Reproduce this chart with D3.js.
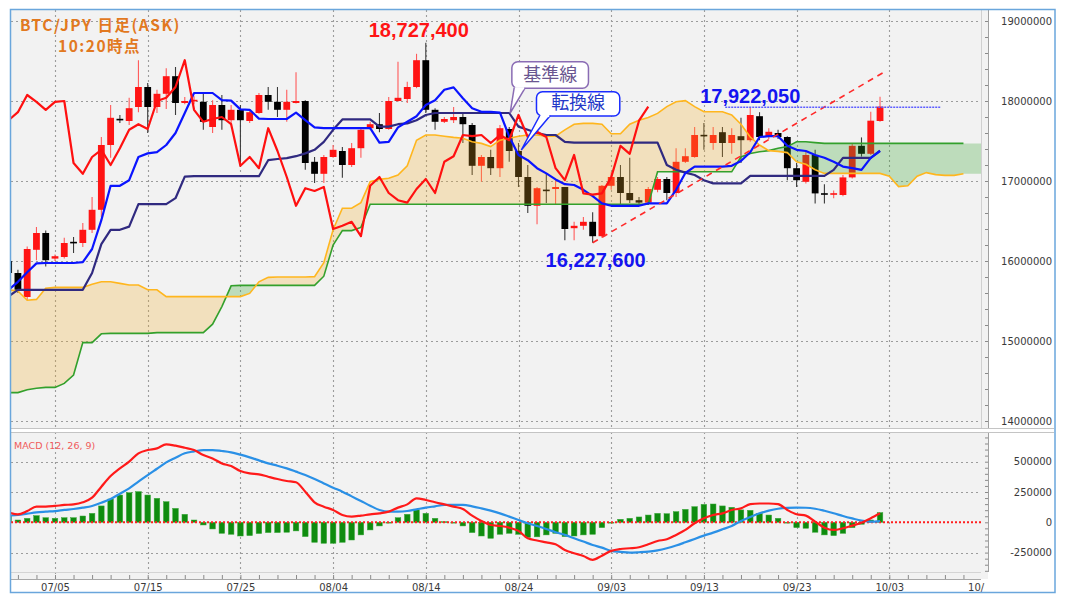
<!DOCTYPE html>
<html><head><meta charset="utf-8">
<script src="https://cdn.jsdelivr.net/npm/d3@7"></script>
<style>
html,body{margin:0;padding:0;background:#fff;}
svg{display:block;}
</style></head>
<body>
<svg id="chart" width="1066" height="599"></svg>
<script>
// ================= DATA =================
const firstBar = "2025-06-30";           // date of first (partly visible) daily bar
const openP = [
16000000,15850000,15550000,16140000,16350000,
16030000,16050000,16240000,16225000,16390000,
16640000,17450000,17775000,17750000,17925000,
18175000,17925000,18090000,18310000,17975000,
18000000,17990000,17675000,17950000,17760000,
17890000,17750000,17850000,18075000,17990000,
17890000,17975000,18000000,17240000,17090000,
17300000,17375000,17200000,17410000,17660000,
17710000,17650000,18000000,18025000,18175000,
18510000,17890000,17740000,17760000,17800000,
17700000,17190000,17300000,17160000,17650000,
17375000,17050000,16690000,16890000,16900000,
16925000,16410000,16440000,16490000,16310000,
16940000,17050000,16850000,16760000,16730000,
16890000,17025000,16850000,17240000,17300000,
17575000,17475000,17610000,17475000,17560000,
17510000,17810000,17550000,17600000,17550000,
17160000,16990000,17325000,16845000,16830000,
16825000,17045000,17440000,17340000,17750000];
const highP = [
16040000,15890000,16180000,16425000,16380000,
16080000,16290000,16300000,16475000,16800000,
17550000,17950000,17825000,18040000,18510000,
18225000,18140000,18410000,18425000,18050000,
18060000,18090000,18010000,18075000,17950000,
17950000,17890000,18100000,18175000,18175000,
18140000,18360000,18010000,17300000,17325000,
17450000,17425000,17475000,17675000,17740000,
17850000,18050000,18490000,18240000,18590000,
18727400,17910000,17800000,17925000,17850000,
17725000,17325000,17390000,17700000,17675000,
17475000,17200000,16925000,17100000,17010000,
16925000,16490000,16550000,16610000,16950000,
17110000,17200000,17290000,16800000,16925000,
17050000,17050000,17410000,17410000,17675000,
17725000,17675000,17675000,17660000,17790000,
17922050,17860000,17660000,17640000,17560000,
17225000,17365000,17390000,16960000,16880000,
17075000,17470000,17545000,17866000,18054000];
const lowP = [
15830000,15600000,15510000,16010000,15930000,
16000000,16030000,16100000,16175000,16350000,
16550000,17290000,17725000,17700000,17860000,
17600000,17850000,17900000,17825000,17960000,
17960000,17640000,17600000,17640000,17700000,
17175000,17725000,17840000,17890000,17800000,
17740000,17970000,17140000,16975000,16975000,
17290000,17040000,17175000,17290000,17640000,
17610000,17640000,17990000,17975000,18160000,
17850000,17640000,17725000,17725000,17475000,
17075000,16990000,17075000,17050000,17240000,
16925000,16600000,16460000,16725000,16700000,
16260000,16260000,16390000,16227600,16290000,
16890000,16700000,16725000,16700000,16725000,
16860000,16760000,16800000,17225000,17290000,
17390000,17390000,17300000,17340000,17225000,
17490000,17510000,17525000,17525000,17010000,
16925000,16970000,16720000,16720000,16785000,
16810000,17030000,17305000,17325000,17740000];
const closeP = [
15850000,15640000,16150000,16350000,16010000,
16060000,16225000,16220000,16390000,16640000,
17450000,17790000,17760000,17910000,18175000,
17925000,18090000,18310000,17975000,18000000,
18010000,17740000,17950000,17760000,17890000,
17760000,17860000,18075000,17990000,17890000,
17990000,18000000,17225000,17090000,17300000,
17390000,17200000,17410000,17640000,17710000,
17650000,18000000,18040000,18175000,18510000,
17890000,17740000,17775000,17800000,17710000,
17190000,17300000,17160000,17660000,17375000,
17050000,16690000,16910000,16875000,16925000,
16400000,16440000,16490000,16310000,16940000,
17050000,16850000,16760000,16730000,16900000,
17025000,16850000,17240000,17310000,17575000,
17560000,17575000,17475000,17575000,17510000,
17825000,17550000,17615000,17550000,17160000,
17010000,17325000,16845000,16830000,16845000,
17045000,17440000,17340000,17754000,17930000];
// 転換線 (Tenkan-sen)
const tenkan = [
15640000,15740000,15860000,15970000,15975000,
15975000,15975000,15975000,15985000,16150000,
16510000,16940000,16940000,17010000,17300000,
17345000,17360000,17450000,17600000,17850000,
18100000,18100000,18100000,18010000,18005000,
17895000,17890000,17780000,17775000,17775000,
17775000,17855000,17760000,17670000,17660000,
17660000,17660000,17660000,17660000,17660000,
17480000,17490000,17670000,17740000,17810000,
17950000,18010000,18140000,18170000,18035000,
17910000,17865000,17865000,17855000,17555000,
17325000,17260000,17160000,17095000,17020000,
16960000,16950000,16890000,16810000,16720000,
16690000,16690000,16690000,16690000,16720000,
16720000,16720000,16890000,17100000,17180000,
17180000,17180000,17180000,17190000,17250000,
17360000,17550000,17560000,17560000,17440000,
17390000,17375000,17325000,17290000,17240000,
17180000,17160000,17140000,17290000,17375000];
// 基準線 (Kijun-sen)
const kijun = [
15560000,15640000,15640000,15640000,15640000,
15640000,15640000,15640000,15640000,15850000,
16210000,16390000,16390000,16430000,16710000,
16710000,16710000,16710000,16785000,17055000,
17060000,17060000,17060000,17060000,17060000,
17060000,17060000,17060000,17260000,17275000,
17285000,17310000,17345000,17390000,17490000,
17640000,17770000,17770000,17770000,17770000,
17680000,17680000,17710000,17720000,17760000,
17825000,17850000,17850000,17850000,17850000,
17850000,17850000,17850000,17850000,17850000,
17680000,17640000,17600000,17575000,17575000,
17490000,17480000,17480000,17480000,17480000,
17480000,17480000,17480000,17480000,17480000,
17480000,17200000,17140000,17105000,17075000,
17010000,16970000,16970000,16970000,16970000,
17065000,17065000,17065000,17065000,17065000,
17065000,17065000,17065000,17065000,17140000,
17290000,17290000,17290000,17290000,17380000];
// 先行スパン1 / 先行スパン2 (already shifted forward, from firstBar to 2025-10-13)
const senkouA = [
15640000,15625000,15510000,15520000,15660000,
15670000,15670000,15670000,15670000,15710000,
15740000,15740000,15720000,15700000,15700000,
15640000,15640000,15555000,15555000,15555000,
15555000,15555000,15555000,15555000,15555000,
15555000,15595000,15740000,15795000,15800000,
15800000,15800000,15800000,15805000,15980000,
16390000,16660000,16660000,16730000,16990000,
17020000,17035000,17075000,17190000,17510000,
17575000,17575000,17560000,17545000,17535000,
17490000,17470000,17430000,17510000,17535000,
17560000,17575000,17575000,17560000,17560000,
17640000,17710000,17720000,17720000,17710000,
17590000,17590000,17710000,17760000,17795000,
17845000,17930000,17990000,18005000,17930000,
17865000,17865000,17865000,17825000,17710000,
17550000,17450000,17380000,17370000,17355000,
17240000,17210000,17140000,17095000,17095000,
17095000,17095000,17095000,17095000,17095000,
17060000,16930000,16940000,17060000,17105000,
17080000,17070000,17070000,17090000,17090000,
17090000];
const senkouB = [
14355000,14355000,14390000,14410000,14420000,
14420000,14470000,14575000,14980000,14980000,
15090000,15095000,15095000,15095000,15095000,
15095000,15105000,15105000,15105000,15105000,
15105000,15105000,15210000,15430000,15690000,
15695000,15695000,15695000,15695000,15695000,
15695000,15695000,15695000,15695000,15810000,
16200000,16380000,16380000,16420000,16710000,
16710000,16710000,16710000,16710000,16710000,
16710000,16710000,16710000,16710000,16710000,
16710000,16710000,16710000,16710000,16710000,
16710000,16710000,16710000,16710000,16710000,
16710000,16710000,16710000,16710000,16710000,
16710000,16710000,16710000,16710000,16710000,
17115000,17115000,17115000,17115000,17115000,
17115000,17115000,17115000,17115000,17300000,
17345000,17365000,17380000,17410000,17430000,
17490000,17490000,17480000,17470000,17470000,
17470000,17470000,17470000,17470000,17470000,
17470000,17470000,17470000,17470000,17470000,
17470000,17470000,17470000,17470000,17470000,
17470000];
const senkouLineBars = 104;   // the two span lines are drawn over this many bars (fill runs to the end)
const chikouLag = 25;         // 遅行スパン: close plotted 25 bars back
// MACD (12, 26, 9)
const macdLine = [
82000,66000,93000,129000,129000,
135000,143000,148000,165000,203000,
294000,382000,445000,500000,569000,
596000,610000,643000,632000,615000,
596000,555000,527000,486000,464000,
423000,404000,396000,376000,357000,
341000,330000,253000,165000,129000,
102000,60000,47000,55000,66000,
74000,88000,121000,148000,198000,
184000,165000,148000,129000,110000,
55000,11000,-22000,-30000,-44000,
-71000,-132000,-150000,-165000,-181000,
-228000,-255000,-278000,-310000,-275000,
-236000,-220000,-214000,-206000,-181000,
-154000,-140000,-104000,-63000,-8000,
33000,60000,74000,102000,115000,
150000,155000,155000,150000,102000,
66000,55000,5000,-44000,-63000,
-49000,-27000,-3000,33000,74000];
const signalLine = [
55000,60000,71000,82000,88000,
93000,102000,110000,121000,135000,
162000,192000,236000,280000,335000,
390000,442000,494000,533000,569000,
585000,596000,596000,588000,577000,
558000,536000,511000,486000,467000,
445000,418000,390000,357000,321000,
286000,253000,214000,176000,137000,
102000,88000,88000,93000,107000,
121000,132000,143000,143000,143000,
132000,115000,96000,74000,47000,
19000,-8000,-30000,-55000,-82000,
-104000,-132000,-159000,-187000,-209000,
-236000,-244000,-250000,-247000,-242000,
-231000,-214000,-192000,-165000,-137000,
-110000,-85000,-58000,-30000,11000,
44000,74000,96000,112000,119000,
121000,120000,112000,95000,75000,
52000,32000,14000,5000,10000];
const histogram = [
52000,19000,33000,55000,38000,
33000,38000,38000,52000,74000,
135000,192000,225000,244000,253000,
225000,198000,170000,115000,66000,
19000,-22000,-55000,-91000,-99000,
-113000,-110000,-93000,-85000,-85000,
-82000,-71000,-118000,-165000,-173000,
-173000,-165000,-146000,-104000,-63000,
-30000,-3000,38000,66000,102000,
74000,33000,5000,-5000,-30000,
-85000,-113000,-132000,-99000,-91000,
-99000,-125000,-120000,-104000,-91000,
-118000,-113000,-104000,-99000,-44000,
-3000,25000,33000,44000,60000,
74000,71000,88000,107000,129000,
148000,151000,135000,124000,102000,
99000,74000,60000,33000,-5000,
-44000,-49000,-82000,-104000,-110000,
-91000,-44000,-16000,19000,80000];
// axes
const dateTicks  = ["2025-07-05","2025-07-15","2025-07-25","2025-08-04","2025-08-14","2025-08-24","2025-09-03","2025-09-13","2025-09-23","2025-10-03","2025-10-13"];
const priceTicks = [14000000,15000000,16000000,17000000,18000000,19000000];
const macdTicks  = [-250000,0,250000,500000];
// annotations (bar number from firstBar, price)
const highLabelBar = 45, lowLabelBar = 63, refLabelBar = 80;
const trendBars   = [63, 94.5];
const trendPrices = [16227600, 18366000];
const refBars     = [77.3, 100.6];
const refPrice    = 17922050;
const titleLines  = ["BTC/JPY 日足(ASK)", "10:20時点"];
const callouts    = [{text:"基準線", bar:54.1, price:17850000}, {text:"転換線", bar:55.3, price:17387500}];

// ================= LAYOUT =================
const svg = d3.select("#chart");
const L = 11, R = 981, AX = 988, TT = 10, TB = 428, LT = 432, LB = 572, XA = 579;
const DAY = 864e5;
const T0 = Date.parse(firstBar + "T00:00:00Z");
const dt = k => new Date(T0 + k * DAY);
const x = d3.scaleUtc()
  .domain([new Date(Date.parse("2025-07-05T00:00:00Z")), new Date(Date.parse("2025-10-13T00:00:00Z"))])
  .range([55, 982]);
const xs = k => x(dt(k));
const y = d3.scaleLinear().domain([14000000, 19000000]).range([421, 21]);
const ym = d3.scaleLinear().domain([-410000, 745000]).range([LB, LT]);

// backgrounds
svg.append("rect").attr("width",1066).attr("height",599).attr("fill","#fff");
svg.append("rect").attr("x",L).attr("y",TT).attr("width",AX-L).attr("height",TB-TT).attr("fill","#f2f2f2");
svg.append("rect").attr("x",L).attr("y",LT).attr("width",AX-L).attr("height",XA-LT).attr("fill","#f2f2f2");

const defs = svg.append("defs");
defs.append("clipPath").attr("id","ctop").append("rect").attr("x",L).attr("y",TT).attr("width",R-L).attr("height",TB-TT);
defs.append("clipPath").attr("id","clow").append("rect").attr("x",L).attr("y",LT).attr("width",R-L).attr("height",XA-LT);
defs.append("clipPath").attr("id","cx").append("rect").attr("x",L).attr("y",XA-6).attr("width",985-L).attr("height",26);

// grid
const grid = svg.append("g").attr("stroke","#9c9c9c").attr("stroke-width",1.1).attr("stroke-dasharray","2,3");
const tickDates = dateTicks.map(s => new Date(Date.parse(s + "T00:00:00Z")));
tickDates.forEach(d => {
  const gx = Math.round(x(d)) + 0.5;
  if (gx > R) return;
  grid.append("line").attr("x1",gx).attr("x2",gx).attr("y1",TT).attr("y2",TB);
  grid.append("line").attr("x1",gx).attr("x2",gx).attr("y1",LT).attr("y2",XA);
});
priceTicks.forEach(v => {
  const gy = Math.round(y(v)) + 0.5;
  grid.append("line").attr("x1",L).attr("x2",R).attr("y1",gy).attr("y2",gy);
});
macdTicks.filter(v => v !== 0).forEach(v => {
  const gy = Math.round(ym(v)) + 0.5;
  grid.append("line").attr("x1",L).attr("x2",R).attr("y1",gy).attr("y2",gy);
});

// ============ PRICE PANEL ============
const topG = svg.append("g").attr("clip-path","url(#ctop)");
const bars = openP.map((o,k) => ({k, o, h:highP[k], l:lowP[k], c:closeP[k]}));
const bw = 6.8;
bars.forEach(b => {
  const up = b.c >= b.o;
  const cx = xs(b.k);
  topG.append("line").attr("x1",cx).attr("x2",cx).attr("y1",y(b.h)).attr("y2",y(b.l))
    .attr("stroke", up ? "#ff5a5a" : "#3a3a3a").attr("stroke-width",1.1);
  const yt = y(Math.max(b.o,b.c)), yb = y(Math.min(b.o,b.c));
  const hh = Math.max(yb - yt, 1.6);
  topG.append("rect").attr("x",cx - bw/2).attr("y", hh > yb - yt ? (yt+yb)/2 - hh/2 : yt)
    .attr("width",bw).attr("height",hh).attr("fill", up ? "#ff1414" : "#000");
});

// cloud fills (with crossing points inserted)
const cloud = [];
let prev = null;
senkouA.forEach((a,k) => {
  const p = {t:k, a, b:senkouB[k]};
  if (prev) {
    const d1 = prev.a - prev.b, d2 = p.a - p.b;
    if (d1 * d2 < 0) {
      const f = d1 / (d1 - d2);
      const v = prev.a + f * (p.a - prev.a);
      cloud.push({t: prev.t + f, a: v, b: v});
    }
  }
  cloud.push(p); prev = p;
});
const xt = t => x(new Date(T0 + t * DAY));
topG.append("path").datum(cloud)
  .attr("d", d3.area().x(d => xt(d.t)).y0(d => y(d.b)).y1(d => y(Math.max(d.a,d.b))))
  .attr("fill","rgba(245,175,40,0.26)");
topG.append("path").datum(cloud)
  .attr("d", d3.area().x(d => xt(d.t)).y0(d => y(d.a)).y1(d => y(Math.max(d.a,d.b))))
  .attr("fill","rgba(55,165,45,0.28)");

const lineK = d3.line().x(d => xs(d.k)).y(d => y(d.v));
const ser = arr => arr.map((v,k) => ({k, v}));
topG.append("path").datum(ser(senkouB).slice(0, senkouLineBars)).attr("d", lineK)
  .attr("fill","none").attr("stroke","#33a02c").attr("stroke-width",1.6);
topG.append("path").datum(ser(senkouA).slice(0, senkouLineBars)).attr("d", lineK)
  .attr("fill","none").attr("stroke","#ffb61e").attr("stroke-width",1.6);
topG.append("path").datum(ser(kijun)).attr("d", lineK)
  .attr("fill","none").attr("stroke","#302a80").attr("stroke-width",2.2).attr("stroke-linejoin","round");
topG.append("path").datum(ser(tenkan)).attr("d", lineK)
  .attr("fill","none").attr("stroke","#0a14ff").attr("stroke-width",2.2).attr("stroke-linejoin","round");
const chikou = closeP.slice(chikouLag).map((v,k) => ({k, v}));
topG.append("path").datum(chikou).attr("d", lineK)
  .attr("fill","none").attr("stroke","#ff1010").attr("stroke-width",2.2).attr("stroke-linejoin","round");

// trend line & reference line
topG.append("line")
  .attr("x1", xt(trendBars[0])).attr("y1", y(trendPrices[0]))
  .attr("x2", xt(trendBars[1])).attr("y2", y(trendPrices[1]))
  .attr("stroke","#ff2a2a").attr("stroke-width",1.6).attr("stroke-dasharray","6,5");
topG.append("line")
  .attr("x1", xt(refBars[0])).attr("x2", xt(refBars[1]))
  .attr("y1", y(refPrice)).attr("y2", y(refPrice))
  .attr("stroke","#5c5cff").attr("stroke-width",1.4).attr("stroke-dasharray","2,1");

// price labels
const fmt = d3.format(",");
const lbl = svg.append("g").attr("font-family","'Liberation Sans',Arial,sans-serif").attr("font-weight","bold")
  .attr("font-size",20).attr("text-anchor","middle");
lbl.append("text").attr("x", xs(highLabelBar) - 7).attr("y", y(highP[highLabelBar]) - 6)
  .attr("fill","#ff1414").text(fmt(highP[highLabelBar]));
lbl.append("text").attr("x", xs(lowLabelBar) + 3).attr("y", y(lowP[lowLabelBar]) + 24)
  .attr("fill","#1414f0").text(fmt(lowP[lowLabelBar]));
lbl.append("text").attr("x", xs(refLabelBar)).attr("y", y(refPrice) - 4)
  .attr("fill","#1414f0").text(fmt(refPrice));

// title
const tg = svg.append("g").attr("font-family","'Noto Sans CJK JP',sans-serif").attr("font-weight","bold")
  .attr("font-size",15.5).attr("fill","#e2791f").attr("letter-spacing",1.5);
tg.append("text").attr("x",20).attr("y",30.5).text(titleLines[0]);
tg.append("text").attr("x",58).attr("y",51.5).text(titleLines[1]);

// callouts
function callout(c, box, tail, stroke, color) {
  const ax = xt(c.bar), ay = y(c.price);
  const g = svg.append("g");
  g.append("rect").attr("x", ax + box[0]).attr("y", ay + box[1]).attr("width", box[2]).attr("height", box[3])
    .attr("rx",6).attr("fill","#fff").attr("stroke",stroke).attr("stroke-width",1.5);
  const by = ay + box[1] + box[3];
  g.append("path").attr("d", `M${ax+tail[0]},${by-0.5} L${ax},${ay} L${ax+tail[1]},${by-0.5}`)
    .attr("fill","#fff").attr("stroke",stroke).attr("stroke-width",1.5).attr("stroke-linejoin","miter");
  g.append("line").attr("x1",ax+tail[0]+1).attr("x2",ax+tail[1]-1).attr("y1",by).attr("y2",by)
    .attr("stroke","#fff").attr("stroke-width",2.2);
  g.append("text").attr("x", ax + box[0] + box[2]/2).attr("y", ay + box[1] + box[3] - 7)
    .attr("text-anchor","middle").attr("font-family","'Noto Sans CJK JP',sans-serif")
    .attr("font-size",18).attr("fill",color).text(c.text);
}
callout(callouts[0], [1.7, -51.3, 76.6, 26.6], [4, 15], "#8a6cb4", "#6a5690");
callout(callouts[1], [15.2, -58.3, 83.3, 24.3], [18.5, 29], "#1a2cff", "#2438c8");

// ============ MACD PANEL ============
const lowG = svg.append("g").attr("clip-path","url(#clow)");
histogram.forEach((v,k) => {
  const cx = xs(k);
  lowG.append("rect").attr("x", cx - 2.8).attr("width", 5.6)
    .attr("y", Math.min(ym(v), ym(0))).attr("height", Math.max(Math.abs(ym(v) - ym(0)), 0.8))
    .attr("fill","#0f8c0f").attr("stroke","#3aa83a").attr("stroke-width",0.5);
});
lowG.append("line").attr("x1",L).attr("x2",R).attr("y1",ym(0)).attr("y2",ym(0))
  .attr("stroke","#ff2020").attr("stroke-width",2).attr("stroke-dasharray","2,2");
const lineM = d3.line().x(d => xs(d.k)).y(d => ym(d.v)).curve(d3.curveMonotoneX);
lowG.append("path").datum(ser(signalLine)).attr("d", lineM)
  .attr("fill","none").attr("stroke","#2a90e6").attr("stroke-width",2.2);
lowG.append("path").datum(ser(macdLine)).attr("d", lineM)
  .attr("fill","none").attr("stroke","#ff1a1a").attr("stroke-width",2.2);
svg.append("text").attr("x",14).attr("y",449).attr("font-family","'DejaVu Sans',sans-serif")
  .attr("font-size",9.5).attr("fill","#f05a5a").text("MACD (12, 26, 9)");

// ============ AXES / FRAMES ============
const frame = svg.append("g").attr("fill","none");
frame.append("line").attr("x1",R+0.5).attr("x2",R+0.5).attr("y1",TT).attr("y2",TB).attr("stroke","#d0d0d0");
frame.append("line").attr("x1",AX+0.5).attr("x2",AX+0.5).attr("y1",TT).attr("y2",TB).attr("stroke","#a0a0a0");
frame.append("line").attr("x1",AX+0.5).attr("x2",AX+0.5).attr("y1",LT).attr("y2",LB).attr("stroke","#a0a0a0");
frame.append("line").attr("x1",L).attr("x2",1054).attr("y1",TB+0.5).attr("y2",TB+0.5).attr("stroke","#c4c4c4");
frame.append("line").attr("x1",L).attr("x2",1054).attr("y1",LT+0.5).attr("y2",LT+0.5).attr("stroke","#c4c4c4");
frame.append("line").attr("x1",L).attr("x2",R).attr("y1",LB+0.5).attr("y2",LB+0.5).attr("stroke","#d4d4d4");
frame.append("line").attr("x1",L).attr("x2",R).attr("y1",XA+0.5).attr("y2",XA+0.5).attr("stroke","#a8a8a8");

function styleAxis(g){ g.select(".domain").remove(); g.selectAll("line").attr("stroke","#8a8a8a"); }
function styleLabels(g){ g.select(".domain").remove();
  g.selectAll("text").attr("fill","#3a3a3a").attr("font-family","'DejaVu Sans',sans-serif").attr("font-size",10); }
const plain = v => String(v);
// price axis
svg.append("g").attr("transform",`translate(${AX},0)`)
  .call(d3.axisLeft(y).tickValues(d3.range(14000000, 19100001, 200000)).tickSize(3).tickFormat(""))
  .call(styleAxis);
svg.append("g").attr("transform",`translate(${AX},0)`)
  .call(d3.axisRight(y).tickValues(priceTicks).tickSize(0).tickPadding(64).tickFormat(plain))
  .call(styleLabels).call(g => g.selectAll("text").attr("text-anchor","end"));
// macd axis
svg.append("g").attr("transform",`translate(${AX},0)`)
  .call(d3.axisLeft(ym).tickValues(d3.range(-400000, 745001, 50000)).tickSize(3).tickFormat(""))
  .call(styleAxis);
svg.append("g").attr("transform",`translate(${AX},0)`)
  .call(d3.axisRight(ym).tickValues(macdTicks).tickSize(0).tickPadding(64).tickFormat(plain))
  .call(styleLabels).call(g => g.selectAll("text").attr("text-anchor","end"));
// date axis (clipped at the plot's right edge)
const xClip = svg.append("g").attr("clip-path","url(#cx)");
const minorDates = d3.range(1, 106, 2).map(dt).filter(d => x(d) <= R);
xClip.append("g").attr("transform",`translate(0,${XA})`)
  .call(d3.axisTop(x).tickValues(minorDates).tickSize(4).tickFormat(""))
  .call(styleAxis);
xClip.append("g").attr("transform",`translate(0,${XA})`)
  .call(d3.axisBottom(x).tickValues(tickDates).tickSize(0).tickPadding(5).tickFormat(d3.utcFormat("%m/%d")))
  .call(styleLabels);

// outer border
svg.append("rect").attr("x",10.5).attr("y",9.5).attr("width",1044.5).attr("height",583)
  .attr("fill","none").attr("stroke","#6aa6dc").attr("stroke-width",1.5);
</script>
</body></html>
